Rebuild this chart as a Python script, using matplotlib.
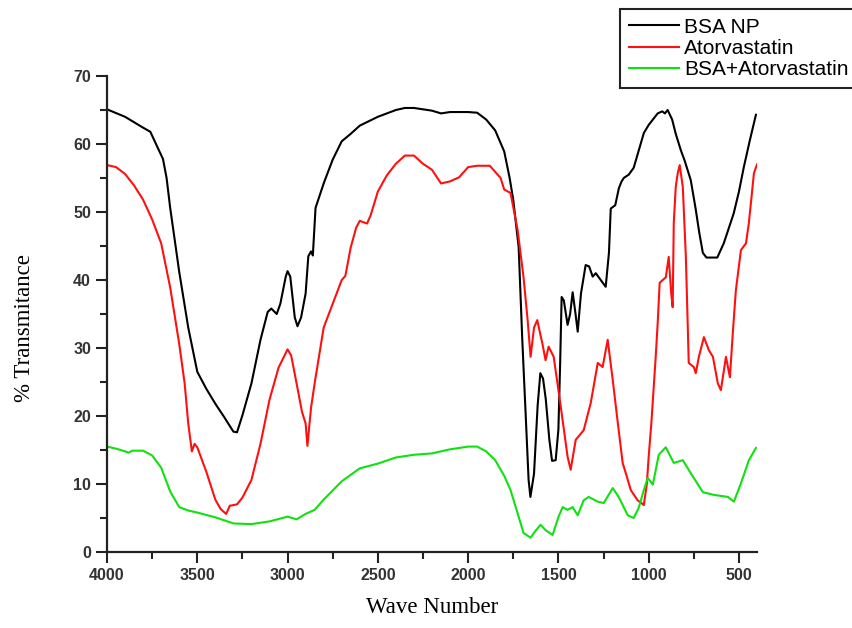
import matplotlib.pyplot as plt
from matplotlib.ticker import MultipleLocator

bsa_wn = [4000, 3900, 3800, 3760, 3720, 3690, 3670, 3650, 3600, 3550, 3500, 3450, 3400, 3350,
          3300, 3280, 3250, 3200, 3150, 3110, 3090, 3060, 3040, 3010, 3000, 2985, 2960, 2945,
          2925, 2900, 2885, 2870, 2860, 2845, 2800, 2750, 2700, 2650, 2600, 2500, 2400, 2350,
          2300, 2200, 2150, 2100, 2000, 1950, 1900, 1850, 1800, 1770, 1750, 1720, 1700, 1680,
          1665, 1655, 1635, 1615, 1600, 1585, 1570, 1550, 1535, 1515, 1500, 1490, 1482, 1470,
          1449, 1435, 1421, 1405, 1393, 1375, 1349, 1330, 1310, 1293, 1260, 1238, 1220, 1210,
          1185, 1165, 1150, 1138, 1110, 1083, 1050, 1027, 1000, 950, 925, 910, 895, 870, 850,
          822, 800, 767, 740, 720, 700, 680, 620, 584, 529, 500, 473, 440, 406]
bsa_t = [65.1, 64.0, 62.4, 61.8, 59.5, 57.8, 55.0, 50.6, 41.2, 33.0, 26.5, 24.0, 21.8, 19.8,
         17.7, 17.6, 20.1, 24.8, 31.2, 35.3, 35.8, 35.0, 36.5, 40.5, 41.3, 40.5, 34.5, 33.2,
         34.5, 38.0, 43.5, 44.2, 43.6, 50.6, 54.2, 57.7, 60.4, 61.5, 62.7, 64.0, 65.0, 65.3,
         65.3, 64.9, 64.5, 64.7, 64.7, 64.6, 63.6, 62.0, 58.9, 55.0, 51.8, 44.8, 31.2, 19.5,
         10.6, 8.1, 11.5, 21.5, 26.3, 25.5, 22.5, 16.5, 13.4, 13.5, 18.0, 28.0, 37.5, 37.0,
         33.4, 35.0, 38.2, 35.0, 32.4, 38.0, 42.2, 42.0, 40.5, 41.0, 39.8, 39.0, 44.0, 50.5,
         51.0, 53.5, 54.5, 55.0, 55.5, 56.5, 59.5, 61.6, 62.8, 64.5, 64.8, 64.5, 65.0, 63.6, 61.5,
         59.1, 57.5, 54.7, 50.5, 47.0, 44.0, 43.3, 43.3, 45.4, 49.8, 53.0, 56.6, 60.5, 64.3]

ator_wn = [4000, 3950, 3900, 3850, 3800, 3750, 3700, 3650, 3600, 3570, 3550, 3530, 3515, 3500,
           3450, 3400, 3370, 3340, 3320, 3280, 3250, 3200, 3150, 3100, 3050, 3000, 2980, 2950,
           2920, 2900, 2890, 2870, 2850, 2800, 2750, 2700, 2680, 2650, 2620, 2600, 2560, 2540,
           2500, 2450, 2400, 2350, 2300, 2250, 2200, 2150, 2100, 2050, 2000, 1950, 1880, 1850,
           1820, 1800, 1765, 1726, 1693, 1670, 1654, 1635, 1617, 1600, 1589, 1571, 1554, 1526,
           1487, 1449, 1432, 1404, 1360, 1321, 1282, 1255, 1227, 1199, 1171, 1144, 1120, 1099,
           1061, 1040, 1027, 1010, 1000, 985, 961, 950, 939, 905, 889, 875, 867, 861, 850, 839,
           828, 811, 794, 778, 750, 739, 722, 694, 667, 644, 617, 600, 572, 550, 533, 517, 489,
           461, 445, 417, 400]
ator_t = [56.9, 56.6, 55.6, 53.9, 51.8, 48.9, 45.4, 38.9, 30.6, 24.8, 18.9, 14.8, 15.9, 15.4,
          11.8, 7.7, 6.3, 5.6, 6.8, 7.0, 8.0, 10.6, 15.9, 22.4, 27.1, 29.8, 28.9, 24.8,
          20.6, 18.9, 15.6, 21.2, 24.8, 33.0, 36.5, 40.0, 40.6, 44.8, 47.7, 48.7, 48.3, 49.5,
          53.0, 55.4, 57.1, 58.3, 58.3, 57.1, 56.2, 54.2, 54.5, 55.1, 56.6, 56.8, 56.8, 55.9,
          55.0, 53.3, 52.8, 47.4, 40.4, 34.0, 28.7, 33.0, 34.1, 32.0, 30.7, 28.2, 30.2, 28.7,
          21.4, 14.0, 12.1, 16.5, 17.9, 21.9, 27.8, 27.2, 31.2, 25.3, 19.0, 13.1, 11.0, 9.1,
          7.6, 7.2, 6.9, 10.0, 14.0, 19.0, 28.7, 33.7, 39.6, 40.4, 43.4, 38.0, 36.0, 48.4, 53.7, 55.7,
          56.9, 53.7, 43.4, 27.8, 27.2, 26.3, 28.7, 31.6, 29.7, 28.7, 24.8, 23.8, 28.7, 25.7, 32.6, 38.5, 44.4,
          45.4, 48.4, 55.7, 57.0]

mix_wn = [4000, 3950, 3900, 3880, 3860, 3800, 3750, 3700, 3650, 3600, 3550, 3500, 3400, 3300,
          3200, 3100, 3000, 2950, 2900, 2850, 2800, 2700, 2600, 2500, 2400, 2300, 2200, 2100,
          2000, 1950, 1900, 1850, 1800, 1765, 1726, 1693, 1654, 1630, 1599, 1570, 1532, 1499,
          1476, 1449, 1421, 1393, 1360, 1332, 1282, 1249, 1199, 1166, 1116, 1083, 1055, 1027,
          1005, 977, 944, 905, 861, 811, 767, 700, 639, 561, 528, 489, 445, 406]
mix_t = [15.5, 15.2, 14.8, 14.6, 14.9, 14.9, 14.2, 12.4, 8.9, 6.6, 6.1, 5.8, 5.1, 4.2,
         4.1, 4.5, 5.2, 4.8, 5.6, 6.2, 7.7, 10.4, 12.3, 13.0, 13.9, 14.3, 14.5, 15.1,
         15.5, 15.5, 14.8, 13.5, 11.2, 9.1, 5.7, 2.8, 2.1, 3.0, 4.0, 3.2, 2.5, 5.2,
         6.6, 6.2, 6.6, 5.4, 7.6, 8.1, 7.4, 7.2, 9.4, 8.1, 5.4, 5.0, 6.5, 9.1,
         10.9, 9.9, 14.3, 15.4, 13.1, 13.5, 11.6, 8.8, 8.4, 8.1, 7.4, 10.1, 13.5, 15.3]

labels = ["BSA NP", "Atorvastatin", "BSA+Atorvastatin"]
x_ticks = [4000, 3500, 3000, 2500, 2000, 1500, 1000, 500]
y_ticks = [0, 10, 20, 30, 40, 50, 60, 70]

# * - - - Figure and axes placed like the original
fig = plt.figure(figsize=(8.53, 6.28), dpi=100)
ax = fig.add_axes([107 / 853, 1 - 552 / 628, 650 / 853, 476 / 628])

ax.plot(bsa_wn, bsa_t, color="black", lw=1.5, label=labels[0])
ax.plot(ator_wn, ator_t, color="#ff1010", lw=1.5, label=labels[1])
ax.plot(mix_wn, mix_t, color="#11e011", lw=1.5, label=labels[2])

ax.set_xlim(4000, 400)
ax.set_ylim(0, 70)
ax.set_xticks(x_ticks)
ax.set_yticks(y_ticks)
ax.xaxis.set_minor_locator(MultipleLocator(250))
ax.yaxis.set_minor_locator(MultipleLocator(5))

for side in ["top", "right"]:
    ax.spines[side].set_visible(False)
for side in ["left", "bottom"]:
    ax.spines[side].set_linewidth(1.6)
    ax.spines[side].set_color("#222222")

ax.tick_params(which="major", direction="out", length=8, width=1.5, color="#222222")
ax.tick_params(which="minor", direction="out", length=5, width=1.5, color="#222222")
for lab in ax.get_xticklabels() + ax.get_yticklabels():
    lab.set_fontfamily("Liberation Sans")
    lab.set_fontweight("bold")
    lab.set_fontsize(11.5)
    lab.set_color("#333333")

ax.set_xlabel("Wave Number", fontfamily="Liberation Serif", fontsize=16.5, labelpad=10)
ax.set_ylabel("% Transmitance", fontfamily="Liberation Serif", fontsize=16.5)
ax.yaxis.set_label_coords(-0.11, 0.47)

# * - - - Legend box in the top right corner (runs off the edge like the original)
leg = ax.legend(loc="upper left", bbox_to_anchor=(620 / 853, 1 - 9 / 628),
                bbox_transform=fig.transFigure, borderaxespad=0,
                prop={"family": "Liberation Sans", "size": 15},
                handlelength=2.4, handletextpad=0.25, labelspacing=0.1,
                borderpad=0.42, fancybox=False, framealpha=1)
leg.get_frame().set_edgecolor("#222222")
leg.get_frame().set_linewidth(1.5)

fig.savefig("out.png", dpi=100)
